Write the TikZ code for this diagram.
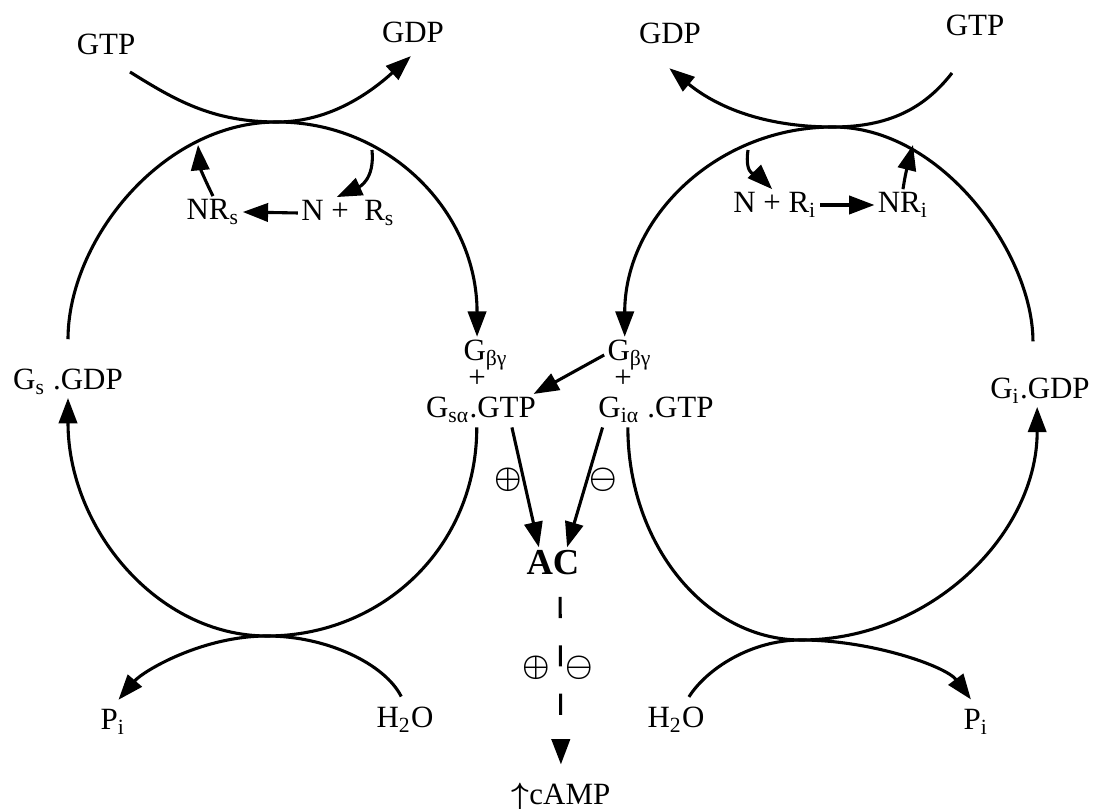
\documentclass[tikz,border=0pt]{standalone}
\usepackage{fontspec}
\setmainfont{Liberation Serif}
\usepackage{bm}
\usepackage{tikz}
\usetikzlibrary{calc,arrows.meta}

\begin{document}
\begin{tikzpicture}[
  x=0.0125cm,y=-0.0125cm,
  lbl/.style={inner sep=1pt,font=\fontsize{11}{13}\selectfont},
  sgn/.style={inner sep=0pt,font=\fontsize{11}{13}\selectfont},
  arr/.style={-{Triangle[length=9pt,width=6.5pt]},line width=1.1pt},
  dsh/.style={arr,dash pattern=on 7.5pt off 9.7pt}
]
  \useasboundingbox (0,0) rectangle (1093,809);

  % left cycle (G_s)
  \node[lbl] (gtpL) at (106,44) {GTP};
  \node[lbl] (gdpL) at (413,32) {GDP};
  \node[lbl] (gsgdp) at (68,382) {G\textsubscript{s} .GDP};
  \node[lbl,anchor=west,inner sep=0pt] (gbgL) at (463,355) {G\textsubscript{βγ}};
  \node[sgn] (plusL) at (477,379) {+};
  \node[lbl,inner sep=0pt] (gsa) at (481,410) {G\textsubscript{sα}.GTP};
  \node[lbl] (nrs) at (213,212) {NR\textsubscript{s}};
  \node[lbl] (nplrs) at (348,213) {N +\ \ R\textsubscript{s}};
  \node[lbl] (piL) at (113,722) {P\textsubscript{i}};
  \node[lbl] (h2oL) at (405,720) {H\textsubscript{2}O};
  \coordinate (topL) at (277,122);
  \coordinate (botL) at (267,636);
  \coordinate (gtpLe) at (130,72);
  \coordinate (nrL) at (198,145);
  \coordinate (nbL) at (372,150);

  \draw[arr,shorten >=1pt] (gtpLe) .. controls +(45,28) and +(-65,0) .. (topL)
    .. controls +(55,0) and +(-40,36) .. ([yshift=-3pt]gdpL.south);
  \draw[arr,shorten <=9.5pt] (gsgdp.north) .. controls +(0,-125) and +(-115,0) .. (topL)
    .. controls +(112,0) and +(0,-125) .. ([xshift=5pt,yshift=1pt]gbgL.north west);
  \draw[arr] ([xshift=-1.5pt,yshift=-1.5pt]gsa.south) .. controls +(0,120) and +(115,0) .. (botL)
    .. controls +(-110,0) and +(0,130) .. (gsgdp.south);
  \draw[arr] (nrs.north) .. controls +(-10,-20) and +(2,22) .. (nrL);
  \draw[arr] (nbL) .. controls +(3,30) and +(22,-10) .. ([xshift=-4pt]nplrs.north);
  \draw[arr] (nplrs.west) -- (nrs.east);
  \draw[arr,shorten <=3pt,shorten >=3pt] (h2oL.north) .. controls +(-20,-40) and +(60,0) .. (botL)
    .. controls +(-65,0) and +(30,-35) .. (piL.north);

  % right cycle (G_i)
  \node[lbl] (gdpR) at (670,33) {GDP};
  \node[lbl] (gtpR) at (975,25) {GTP};
  \node[lbl] (gigdp) at (1040,391) {G\textsubscript{i}.GDP};
  \node[lbl,anchor=west,inner sep=0pt] (gbgR) at (607,355) {G\textsubscript{βγ}};
  \node[sgn] (plusR) at (623,379) {+};
  \node[lbl,inner sep=0pt] (gia) at (656,410) {G\textsubscript{iα} .GTP};
  \node[lbl] (nplri) at (775,205) {N + R\textsubscript{i}};
  \node[lbl] (nri) at (903,205) {NR\textsubscript{i}};
  \node[lbl] (h2oR) at (676,720) {H\textsubscript{2}O};
  \node[lbl] (piR) at (976,722) {P\textsubscript{i}};
  \coordinate (topR) at (833,127);
  \coordinate (botR) at (801,640);
  \coordinate (gtpRe) at (952,73);
  \coordinate (nbR) at (748,150);
  \coordinate (nrR) at (913,145);

  \draw[arr,shorten >=1pt] (gtpRe) .. controls +(-28,36) and +(55,0) .. (topR)
    .. controls +(-75,0) and +(45,37) .. ([xshift=-1pt,yshift=-7pt]gdpR.south);
  \draw[arr,shorten <=12pt] ([xshift=-2.5pt]gigdp.north) .. controls +(0,-120) and +(110,0) .. (topR)
    .. controls +(-115,0) and +(0,-120) .. ([xshift=6.3pt,yshift=1pt]gbgR.north west);
  \draw[arr] ([xshift=-10pt,yshift=-1.5pt]gia.south) .. controls +(0,117) and +(-95,0) .. (botR)
    .. controls +(130,0) and +(0,127) .. ([xshift=-1pt]gigdp.south);
  \draw[arr] (nbR) .. controls +(-4,28) and +(-14,-14) .. ([xshift=-1pt]nplri.north);
  \draw[arr] (nri.north) .. controls +(3,-20) and +(-4,16) .. (nrR);
  \draw[arr] (nplri.east) -- (nri.west);
  \draw[arr,shorten <=3pt,shorten >=3pt] ([xshift=3pt]h2oR.north) .. controls +(22,-35) and +(-50,0) .. (botR)
    .. controls +(70,0) and +(-30,-40) .. (piR.north);

  % adenylate cyclase
  \node[lbl,font=\fontsize{13}{15}\selectfont\bfseries] (ac) at (553,563) {AC};
  \node[sgn] (plA) at (508,480) {$\bm{\oplus}$};
  \node[sgn] (miA) at (603,480) {$\bm{\ominus}$};
  \node[sgn] (plB) at (536,668) {$\bm{\oplus}$};
  \node[sgn] (miB) at (579,668) {$\bm{\ominus}$};
  \node[lbl] (camp) at (561,797) {$\bm{\uparrow}$cAMP};

  \draw[arr] ([xshift=-1pt]gbgR.west) -- ([xshift=-1pt,yshift=1pt]gsa.north east);
  \draw[arr] ([xshift=11pt,yshift=-1.5pt]gsa.south) -- ([xshift=-5pt]ac.north);
  \draw[arr] ([xshift=-19pt,yshift=-1.5pt]gia.south) -- ([xshift=5pt]ac.north);
  \draw[dsh,shorten <=6.5pt,shorten >=5.5pt] ([xshift=2.5pt]ac.south) -- (camp.north);
\end{tikzpicture}
\end{document}
